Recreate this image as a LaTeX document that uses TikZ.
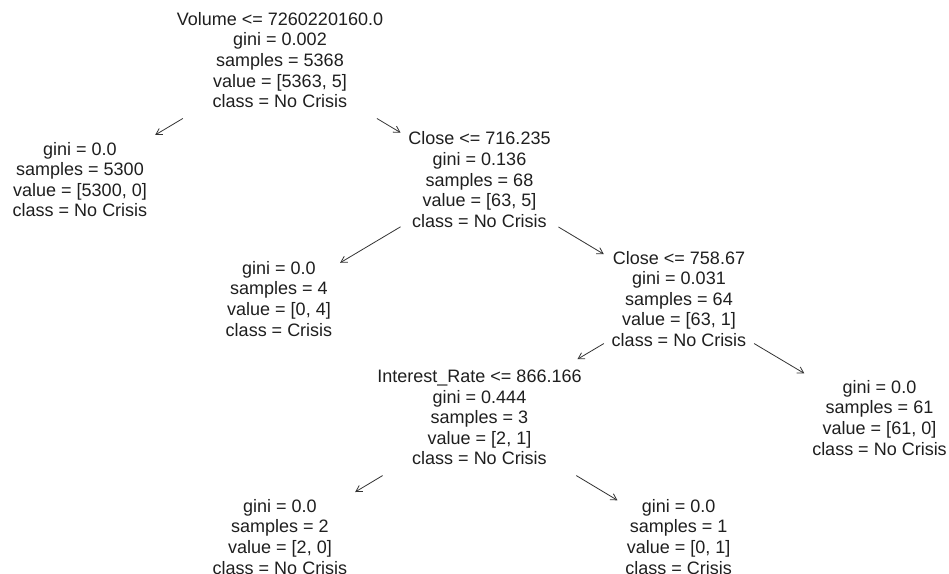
\documentclass[tikz,border=0pt]{standalone}
\usepackage{fontspec}
\setmainfont{Liberation Sans}
\usetikzlibrary{arrows.meta}
\newcommand\topstrut{\rule{0pt}{17pt}}
\newcommand\botstrut{\rule[-4.5pt]{0pt}{4.5pt}}
\begin{document}
\begin{tikzpicture}[x=1pt,y=-1pt,
  tnode/.style={align=center, inner xsep=6pt, inner ysep=5pt, font=\fontsize{18}{20.6}\selectfont, text=black!88},
  edge/.style={draw=black!80, line width=0.8pt, -{Straight Barb[length=6pt,width=7pt]}, shorten <=2pt, shorten >=2pt}]
\useasboundingbox (0,0) rectangle (949,573);
\fill[white] (0,0) rectangle (949,573);
\node[tnode] (n0) at (280,60.3) {\topstrut Volume <= 7260220160.0\\ gini = 0.002\\ samples = 5368\\ value = [5363, 5]\\ class = No Crisis\botstrut};
\node[tnode] (n1) at (80,179.8) {\topstrut gini = 0.0\\ samples = 5300\\ value = [5300, 0]\\ class = No Crisis\botstrut};
\node[tnode] (n2) at (479.5,179.9) {\topstrut Close <= 716.235\\ gini = 0.136\\ samples = 68\\ value = [63, 5]\\ class = No Crisis\botstrut};
\node[tnode] (n3) at (279,299) {\topstrut gini = 0.0\\ samples = 4\\ value = [0, 4]\\ class = Crisis\botstrut};
\node[tnode] (n4) at (679,299) {\topstrut Close <= 758.67\\ gini = 0.031\\ samples = 64\\ value = [63, 1]\\ class = No Crisis\botstrut};
\node[tnode] (n5) at (479.5,417.4) {\topstrut Interest\_Rate <= 866.166\\ gini = 0.444\\ samples = 3\\ value = [2, 1]\\ class = No Crisis\botstrut};
\node[tnode] (n6) at (879.5,417.9) {\topstrut gini = 0.0\\ samples = 61\\ value = [61, 0]\\ class = No Crisis\botstrut};
\node[tnode] (n7) at (280,537) {\topstrut gini = 0.0\\ samples = 2\\ value = [2, 0]\\ class = No Crisis\botstrut};
\node[tnode] (n8) at (678.6,537) {\topstrut gini = 0.0\\ samples = 1\\ value = [0, 1]\\ class = Crisis\botstrut};
\draw[edge] (n0) -- (n1);
\draw[edge] (n0) -- (n2);
\draw[edge] (n2) -- (n3);
\draw[edge] (n2) -- (n4);
\draw[edge] (n4) -- (n5);
\draw[edge] (n4) -- (n6);
\draw[edge] (n5) -- (n7);
\draw[edge] (n5) -- (n8);
\end{tikzpicture}
\end{document}
